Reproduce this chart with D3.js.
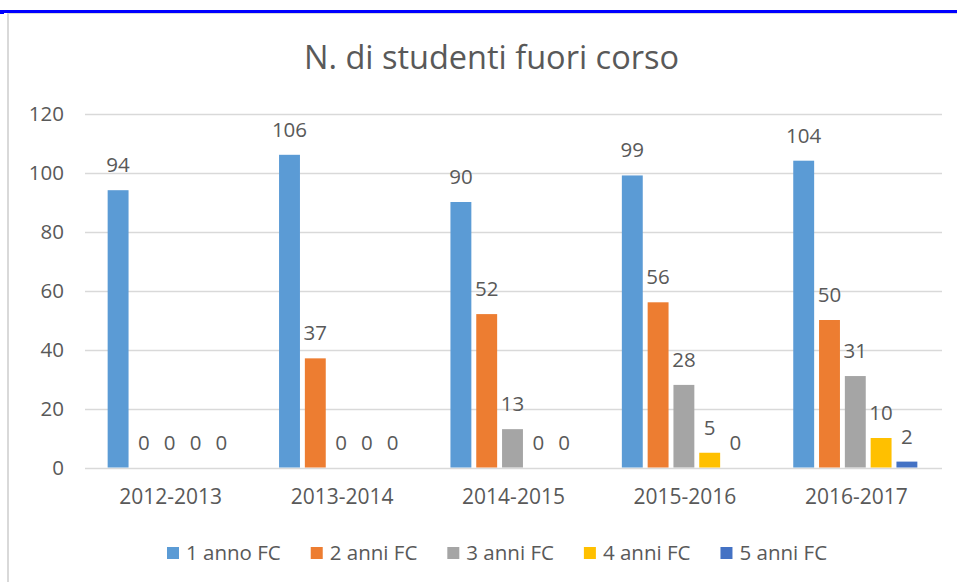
<!DOCTYPE html>
<html>
<head>
<meta charset="utf-8">
<script src="https://cdn.jsdelivr.net/npm/d3@7"></script>
<style>
  html, body { margin: 0; padding: 0; background: #fff; }
  svg { display: block; }
  text { font-family: "Open Sans", "Liberation Sans", sans-serif; fill: #595959; }
</style>
</head>
<body>
<svg id="chart" width="957" height="582"></svg>
<script>
const title = "N. di studenti fuori corso";
const categories = ["2012-2013", "2013-2014", "2014-2015", "2015-2016", "2016-2017"];
const seriesNames = ["1 anno FC", "2 anni FC", "3 anni FC", "4 anni FC", "5 anni FC"];
const anno1 = [94, 106, 90, 99, 104];
const anni2 = [0, 37, 52, 56, 50];
const anni3 = [0, 0, 13, 28, 31];
const anni4 = [0, 0, 0, 5, 10];
const anni5 = [0, 0, 0, 0, 2];
const yTicks = [0, 20, 40, 60, 80, 100, 120];
const colors = ["#5B9BD5", "#ED7D31", "#A5A5A5", "#FFC000", "#4472C4"];

const seriesValues = [anno1, anni2, anni3, anni4, anni5];
const data = categories.map((c, ci) => ({
  cat: c,
  vals: seriesNames.map((s, si) => ({ s, si, v: seriesValues[si][ci] }))
}));

const svg = d3.select("#chart");

// frame
svg.append("rect").attr("x", 8).attr("y", 13).attr("width", 960).attr("height", 580)
  .attr("fill", "#fff").attr("stroke", "#D9D9D9").attr("stroke-width", 2);
svg.append("rect").attr("x", 0).attr("y", 10).attr("width", 957).attr("height", 3).attr("fill", "#0000FF");
svg.append("rect").attr("x", 0).attr("y", 10).attr("width", 4).attr("height", 4).attr("fill", "#0000FF");

const y = d3.scaleLinear().domain([0, 120]).range([467.5, 113.5]);
const x0 = d3.scaleBand().domain(categories).range([85, 942]).padding(0);
const x1 = d3.scaleBand().domain(seriesNames).range([20.2, 149.2]).paddingInner(0.19).paddingOuter(0.095);

// gridlines
svg.append("g").selectAll("line").data(yTicks).join("line")
  .attr("x1", 85).attr("x2", 942)
  .attr("y1", d => Math.round(y(d)) + 0.5).attr("y2", d => Math.round(y(d)) + 0.5)
  .attr("stroke", "#D9D9D9").attr("stroke-width", 1.3);

// y axis labels
const yAxis = d3.axisLeft(y).tickValues(yTicks).tickSize(0).tickPadding(0);
const gy = svg.append("g").attr("transform", "translate(64,0)").call(yAxis);
gy.select(".domain").remove();
gy.selectAll("text").attr("font-size", "20.5px").attr("fill", "#595959")
  .attr("font-family", "Open Sans").attr("dy", "0.35em");

// x axis labels
const xAxis = d3.axisBottom(x0).tickSize(0).tickPadding(0);
const gx = svg.append("g").attr("transform", "translate(0,489)").call(xAxis);
gx.select(".domain").remove();
gx.selectAll("text").attr("font-size", "21px").attr("fill", "#595959")
  .attr("font-family", "Open Sans").attr("dy", "0.7em");

// bars
const groups = svg.append("g").selectAll("g").data(data).join("g")
  .attr("transform", d => `translate(${x0(d.cat)},0)`);
groups.selectAll("rect").data(d => d.vals).join("rect")
  .attr("x", d => x1(d.s)).attr("width", x1.bandwidth())
  .attr("y", d => y(d.v)).attr("height", d => y(0) - y(d.v))
  .attr("fill", d => colors[d.si]);
groups.selectAll("text").data(d => d.vals).join("text")
  .attr("x", d => x1(d.s) + x1.bandwidth() / 2)
  .attr("y", d => y(d.v) - 18)
  .attr("text-anchor", "middle")
  .attr("font-size", "20.5px")
  .text(d => d.v);

// title
svg.append("text").attr("x", 491.5).attr("y", 69).attr("text-anchor", "middle")
  .attr("font-size", "32.5px").text(title);

// legend
const leg = svg.append("g");
let lx = 167;
seriesNames.forEach((s, i) => {
  leg.append("rect").attr("x", lx).attr("y", 547).attr("width", 12).attr("height", 12).attr("fill", colors[i]);
  const t = leg.append("text").attr("x", lx + 19).attr("y", 553).attr("dy", "0.35em")
    .attr("font-size", "20.5px").text(s);
  lx += 19 + t.node().getComputedTextLength() + 30;
});
</script>
</body>
</html>
